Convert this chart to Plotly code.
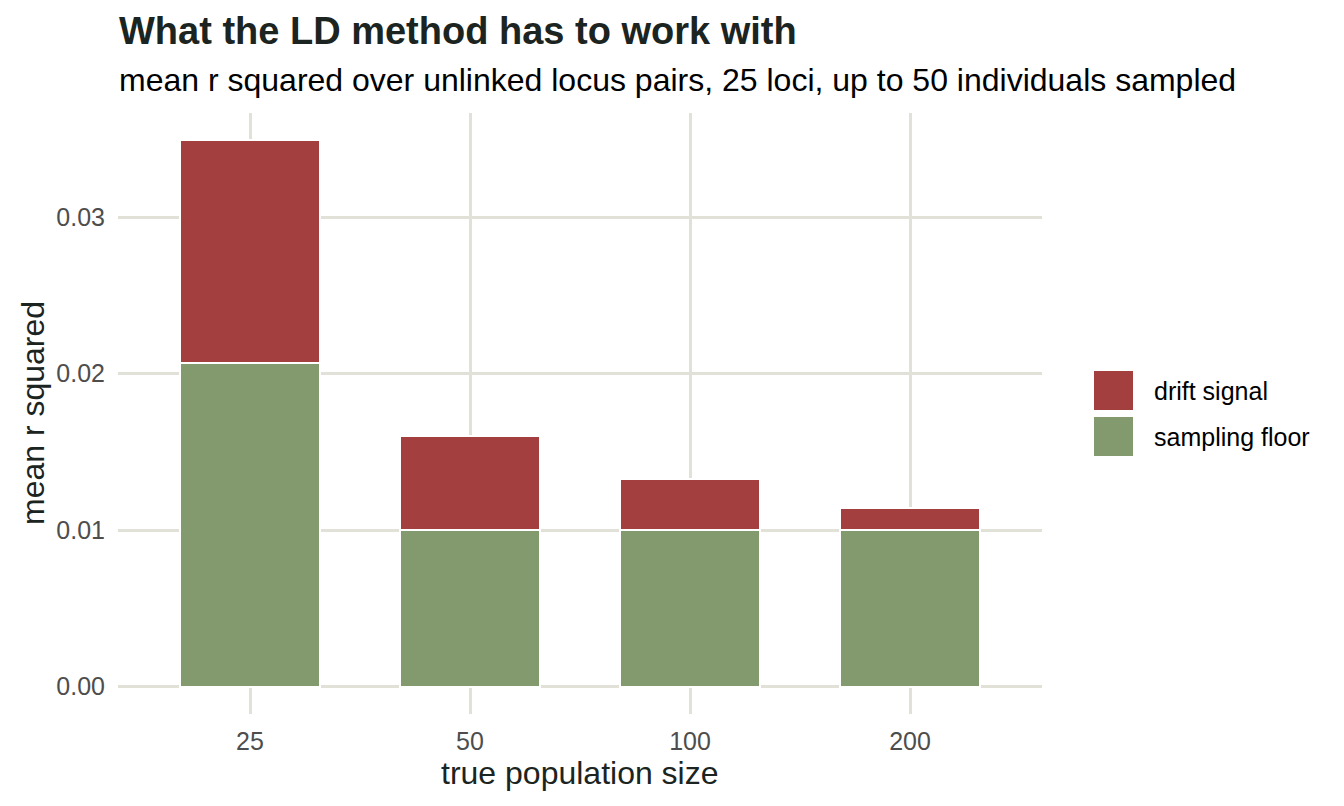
import plotly.graph_objects as go

categories = ["25", "50", "100", "200"]
sampling_floor = [0.0207, 0.0100, 0.0100, 0.0100]
drift_signal = [0.0142, 0.0060, 0.0033, 0.0014]
y_ticks = [0.00, 0.01, 0.02, 0.03]
y_ticktext = ["0.00", "0.01", "0.02", "0.03"]

RED = "#A33F3F"
GREEN = "#83996E"
GRID = "#E1E1D7"
DARK = "#1B2420"
FONT = "Liberation Sans, Arial, sans-serif"

fig = go.Figure()
fig.add_trace(go.Bar(x=categories, y=sampling_floor, name="sampling floor",
                     marker=dict(color=GREEN, line=dict(color="white", width=2)),
                     width=0.64, showlegend=False))
fig.add_trace(go.Bar(x=categories, y=drift_signal, name="drift signal",
                     marker=dict(color=RED, line=dict(color="white", width=2)),
                     width=0.64, showlegend=False))

L, R, T, B = 118, 1042, 113, 714
W, H = 1344, 806
pw, ph = R - L, B - T

def px(x):
    return (x - L) / pw

def py(y):
    return (B - y) / ph

shapes = []
annotations = []
for (name, color, top, bot) in [("drift signal", RED, 371, 410), ("sampling floor", GREEN, 417, 456)]:
    shapes.append(dict(type="rect", xref="paper", yref="paper",
                       x0=px(1094), x1=px(1133), y0=py(bot), y1=py(top),
                       fillcolor=color, line=dict(width=0)))
    annotations.append(dict(text=name, xref="paper", yref="paper",
                            x=px(1152), y=py((top + bot) / 2), xanchor="left", yanchor="middle",
                            showarrow=False, font=dict(family=FONT, size=25, color="#000000")))

annotations.append(dict(text="<b>What the LD method has to work with</b>", xref="paper", yref="paper",
                        x=px(117), y=py(31), xanchor="left", yanchor="middle", showarrow=False,
                        font=dict(family=FONT, size=38, color=DARK)))
annotations.append(dict(text="mean r squared over unlinked locus pairs, 25 loci, up to 50 individuals sampled",
                        xref="paper", yref="paper", x=px(117), y=py(80), xanchor="left", yanchor="middle",
                        showarrow=False, font=dict(family=FONT, size=32, color="#000000")))
annotations.append(dict(text="true population size", xref="paper", yref="paper",
                        x=px(580), y=py(773), xanchor="center", yanchor="middle", showarrow=False,
                        font=dict(family=FONT, size=32, color=DARK)))
annotations.append(dict(text="mean r squared", xref="paper", yref="paper",
                        x=px(33), y=py(413), xanchor="center", yanchor="middle", showarrow=False,
                        textangle=-90, font=dict(family=FONT, size=32, color=DARK)))

fig.update_layout(
    width=W, height=H,
    margin=dict(l=L, r=W - R, t=T, b=H - B, pad=0),
    barmode="stack",
    bargap=0,
    plot_bgcolor="white", paper_bgcolor="white",
    font=dict(family=FONT),
    shapes=shapes,
    annotations=annotations,
    xaxis=dict(
        type="category", range=[-0.6, 3.6],
        showgrid=True, gridcolor=GRID, gridwidth=2.8,
        showline=False, zeroline=False, ticks="",
        ticklabelstandoff=10,
        tickfont=dict(family=FONT, size=25, color="#4D4D4D"),
    ),
    yaxis=dict(
        range=[-0.001745, 0.03665],
        tickvals=y_ticks, ticktext=y_ticktext,
        showgrid=True, gridcolor=GRID, gridwidth=2.8,
        showline=False, zeroline=False, ticks="",
        ticklabelstandoff=12,
        tickfont=dict(family=FONT, size=25, color="#4D4D4D"),
    ),
)

fig.write_html("out.html")
